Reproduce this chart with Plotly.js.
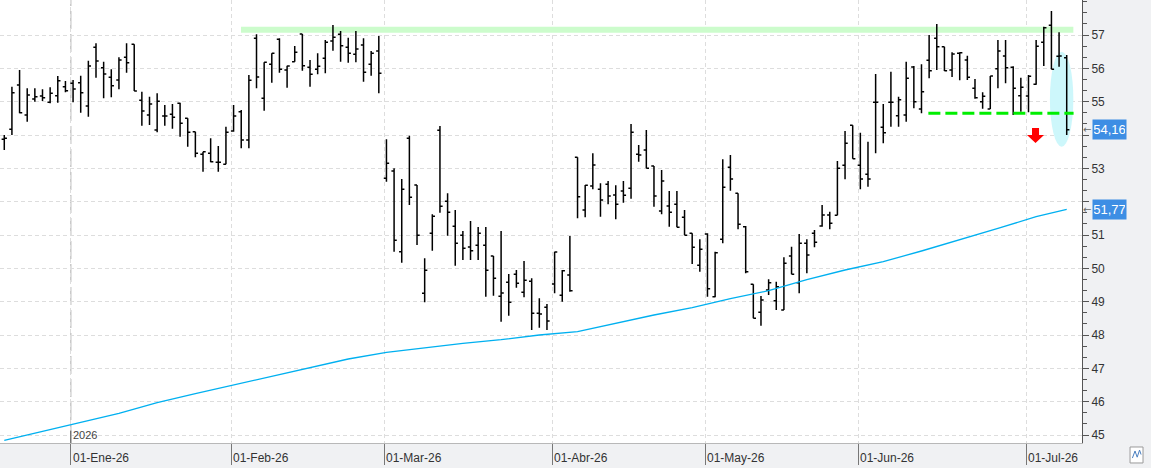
<!DOCTYPE html>
<html>
<head>
<meta charset="utf-8">
<script src="https://cdn.plot.ly/plotly-3.0.1.min.js"></script>
<style>
html,body{margin:0;padding:0;background:#f0f1f3;}
#chart{width:1151px;height:468px;}
</style>
</head>
<body>
<div id="chart"></div>
<script>
// Trading days per month (category labels)
const decDays = [17,18,19,22,23,24,29,30,31];
const janDays = [2,5,6,7,8,9,12,13,14,15,16,19,20,21,22,23,26,27,28,29,30];
const febDays = [2,3,4,5,6,9,10,11,12,13,16,17,18,19,20,23,24,25,26,27];
const marDays = [2,3,4,5,6,9,10,11,12,13,16,17,18,19,20,23,24,25,26,27,30,31];
const aprDays = [1,2,7,8,9,10,13,14,15,16,17,20,21,22,23,24,27,28,29,30];
const mayDays = [4,5,6,7,8,11,12,13,14,15,18,19,20,21,22,25,26,27,28,29];
const junDays = [1,2,3,4,5,8,9,10,11,12,15,16,17,18,19,22,23,24,25,26,29,30];
const julDays = [1,2,3,6,7,8];

const open = [
53.87,54.17,55.5,54.6,55.08,55.17,54.98,55.18,55.45,55.55,
55.57,54.87,56.63,56.02,55.73,55.65,56.33,56.72,55.04,54.6,
54.15,54.57,54.62,54.95,54.5,54.1,53.42,53.45,53.18,53.12,
54.12,54.7,53.85,56.9,55.1,56.12,56.87,55.95,56.2,57.03,
56.03,55.97,56.3,56.82,57.02,56.63,56.42,56.7,56.12,56.52,
52.7,52.92,50.5,53.9,52.5,49.25,51.05,54.14,52.01,51.26,
50.99,50.64,50.69,50.69,50.37,49.16,49.58,49.82,49.28,49.61,
48.65,48.83,49.53,49.19,49.8,53.33,51.75,52.47,52.37,52.52,
52.2,52.32,52.4,53.42,53.55,53.07,51.72,51.87,51.92,51.53,
51.05,50.09,51.03,49.15,50.87,53.03,52.25,51.25,49.52,48.68,
49.35,49.03,48.75,50.37,49.57,50.75,51.05,51.27,51.6,51.59,
53.09,54.29,53.09,52.82,54.98,54.23,54.98,54.58,54.6,56.04,
54.78,56.24,56.9,56.65,55.95,56.45,56.25,55.4,55.0,54.78,
55.99,56.37,56.03,55.18,55.17,55.52,56.78,57.29,56.36,56.32
];
const high = [
54.0,55.45,55.95,55.4,55.4,55.37,55.43,55.77,55.62,55.65,
55.78,56.23,56.75,56.2,55.97,56.33,56.75,56.72,55.3,55.15,
55.25,54.9,54.93,54.97,54.5,54.1,53.5,53.9,53.67,54.25,
54.9,54.75,55.8,57.02,56.18,56.45,56.9,56.08,56.67,57.03,
56.25,56.45,56.85,57.3,57.12,56.92,57.12,56.9,56.52,56.97,
53.87,53.0,52.68,53.98,52.5,50.3,51.62,54.27,52.25,51.75,
51.12,51.42,51.24,51.24,50.37,51.12,49.83,49.95,50.22,49.7,
49.1,48.93,50.5,49.95,50.97,53.33,52.5,53.45,52.55,52.62,
52.49,52.62,54.33,53.7,54.15,53.07,52.95,52.32,52.32,51.75,
51.05,50.87,51.05,50.5,53.27,53.4,52.25,51.27,49.52,49.17,
49.67,49.6,50.33,50.65,51.03,50.87,51.15,51.9,51.7,53.22,
54.12,54.29,54.07,53.8,55.83,54.93,55.9,55.15,56.2,56.07,
56.12,57.0,57.33,56.65,56.48,56.48,56.38,55.68,55.28,55.77,
56.85,56.85,56.06,55.72,55.8,56.85,57.25,57.72,57.08,56.4
];
const low = [
53.55,54.0,54.65,54.4,55.0,55.02,54.95,54.97,55.28,54.98,
54.67,54.55,55.72,55.1,55.13,55.37,55.87,55.32,54.28,54.3,
54.08,54.28,54.19,53.95,53.65,53.33,52.9,53.18,52.9,53.12,
54.1,53.6,53.6,55.4,54.73,55.57,55.87,55.42,56.2,55.93,
55.45,55.82,55.85,56.53,56.2,56.17,56.18,55.6,55.78,55.25,
52.6,50.5,50.17,51.9,50.7,48.98,50.53,51.67,50.98,50.08,
50.25,50.25,50.25,49.15,49.18,48.4,48.58,49.42,49.13,48.15,
48.22,48.15,49.25,49.0,49.3,51.5,51.53,52.37,51.55,51.92,
51.47,51.97,52.09,53.2,53.0,51.85,51.62,51.25,51.23,50.99,
50.13,49.9,49.15,49.13,50.75,52.33,51.17,49.85,48.5,48.28,
49.2,48.75,48.75,49.82,49.25,49.85,50.63,51.25,51.17,51.59,
52.67,53.29,52.37,52.45,53.45,53.75,54.25,54.25,54.4,54.8,
54.65,55.7,55.95,55.92,55.74,55.64,55.65,55.09,54.79,54.78,
55.4,55.55,54.6,54.7,54.68,55.51,56.07,55.97,56.05,54.0
];
const close = [
53.9,55.27,54.67,55.2,55.15,55.12,55.25,55.63,55.33,55.38,
55.27,56.07,56.22,55.83,55.48,56.25,56.17,55.32,54.72,54.93,
55.01,54.57,54.53,54.35,54.08,53.45,53.5,53.2,53.18,54.08,
54.57,53.85,55.64,55.74,56.18,56.45,55.97,56.07,56.48,56.08,
55.82,56.06,56.78,56.93,56.68,56.45,56.58,55.88,56.45,55.85,
53.15,50.84,52.37,52.13,50.99,49.94,51.56,51.86,51.68,50.75,
50.6,50.53,51.05,49.94,49.7,49.26,48.98,49.55,49.64,48.65,
48.63,48.42,50.49,49.93,49.33,52.15,52.49,53.1,52.05,52.17,
51.92,52.19,54.08,53.4,53.0,52.17,52.62,51.68,51.23,50.99,
50.63,50.57,49.39,50.47,52.43,52.68,51.32,49.9,48.5,49.05,
49.57,49.45,50.15,49.82,50.75,50.4,50.78,51.6,51.35,53.0,
53.75,53.29,52.68,52.68,54.98,54.07,54.98,55.06,55.7,55.0,
55.3,55.93,56.65,55.93,56.43,56.47,55.73,55.12,55.16,55.77,
56.52,56.02,55.4,55.43,55.76,56.66,57.22,55.97,56.37,54.16
];

// Moving average, read at selected trading days (index into the day list)
const maIdx  = [0,5,10,15,20,25,30,35,40,45,50,55,60,65,70,75,80,85,90,95,100,105,110,115,120,125,130,135,139];
const maVals = [44.84,45.1,45.38,45.65,45.97,46.24,46.5,46.76,47.02,47.28,47.48,47.62,47.75,47.86,48.0,48.1,48.35,48.6,48.82,49.09,49.33,49.66,49.95,50.2,50.52,50.85,51.2,51.55,51.77];

const monthStarts = ['2026-01-02','2026-02-02','2026-03-02','2026-04-01','2026-05-04','2026-06-01','2026-07-01'];
const monthLabels = ['01-Ene-26','01-Feb-26','01-Mar-26','01-Abr-26','01-May-26','01-Jun-26','01-Jul-26'];
const yTicks = [45,46,47,48,49,50,51,52,53,54,55,56,57];
// 52 and 54 sit behind the price boxes in the reference
const yTickText = ['45','46','47','48','49','50','51','','53','','55','56','57'];
const lastClose = 54.16, lastMA = 51.77;
const resistance = [57.07, 57.25];
const support = 54.65;

// build the date list
const pad = d => (d < 10 ? '0' : '') + d;
const dates = [].concat(
  decDays.map(d => '2025-12-' + pad(d)),
  janDays.map(d => '2026-01-' + pad(d)),
  febDays.map(d => '2026-02-' + pad(d)),
  marDays.map(d => '2026-03-' + pad(d)),
  aprDays.map(d => '2026-04-' + pad(d)),
  mayDays.map(d => '2026-05-' + pad(d)),
  junDays.map(d => '2026-06-' + pad(d)),
  julDays.map(d => '2026-07-' + pad(d))
);
const xi = dates.map((d, i) => i);
const tickPos = monthStarts.map(m => dates.indexOf(m) - 0.3);

const traces = [
  {
    type: 'scatter', mode: 'lines', x: maIdx, y: maVals,
    line: {color: '#00b0f0', width: 1.3}, hoverinfo: 'skip'
  },
  {
    type: 'ohlc', x: xi, open: open, high: high, low: low, close: close,
    text: dates, tickwidth: 0.35,
    increasing: {line: {color: '#000000', width: 1.5}},
    decreasing: {line: {color: '#000000', width: 1.5}}
  }
];

const annotations = monthLabels.map((t, i) => ({
  x: tickPos[i], xref: 'x', xanchor: 'left', y: 0, yref: 'paper', yanchor: 'top',
  yshift: -6, text: t, showarrow: false, font: {size: 12, color: '#333'}
}));
annotations.push({
  x: tickPos[0], xref: 'x', xanchor: 'left', y: 0, yref: 'paper', yanchor: 'bottom',
  yshift: 0, text: '2026', showarrow: false, font: {size: 11, color: '#444'}
});
[[lastClose, '54,16'], [lastMA, '51,77']].forEach(([v, t]) => {
  annotations.push({
    x: 1.0095, xref: 'paper', xanchor: 'left', y: v, yref: 'y', yanchor: 'middle',
    text: t, showarrow: false, bgcolor: '#3d8ee4', width: 31, height: 17, borderpad: 1,
    font: {size: 13, color: '#ffffff'}
  });
  annotations.push({
    x: 1.0048, xref: 'paper', xanchor: 'center', y: v, yref: 'y', yanchor: 'middle',
    text: '\u2190', showarrow: false, font: {size: 10, color: '#666', family: 'DejaVu Sans'}
  });
});

const shapes = [
  // resistance band
  {type: 'rect', xref: 'x', yref: 'y', x0: 30.97, x1: 139.87, y0: resistance[0], y1: resistance[1],
   fillcolor: '#ccfccc', line: {width: 0}, layer: 'between'},
  // cyan ellipse
  {type: 'circle', xref: 'x', yref: 'y', x0: 136.8, x1: 139.87, y0: 53.65, y1: 56.5,
   fillcolor: '#cdf7fb', line: {width: 0}, layer: 'between'},
  // support dashed line
  {type: 'line', xref: 'x', yref: 'y', x0: 120.9, x1: 139.9, y0: support, y1: support,
   line: {color: '#00ee00', width: 3, dash: '12px,5px'}, layer: 'above'},
  // red arrow
  {type: 'path', xref: 'x', yref: 'y',
   path: 'M134.46,54.21 L135.38,54.21 L135.38,54.0 L136.03,54.0 L134.92,53.76 L133.8,54.0 L134.46,54.0 Z',
   fillcolor: '#ff0000', line: {width: 0}, layer: 'above'},
  // year separator
  {type: 'line', xref: 'x', yref: 'paper', x0: tickPos[0], x1: tickPos[0], y0: 0, y1: 1,
   line: {color: '#c8c8c8', width: 1.5, dash: '18px,5px'}, layer: 'between'},
  {type: 'line', xref: 'x', yref: 'paper', x0: tickPos[0], x1: tickPos[0], y0: 0, y1: 0.028,
   line: {color: '#555', width: 1}, layer: 'above'},
  // small icon bottom right
  {type: 'rect', xref: 'paper', yref: 'paper', x0: 1.0444, x1: 1.0564, y0: -0.0451, y1: -0.009,
   fillcolor: '#ffffff', line: {color: '#9a9a9a', width: 1}},
  {type: 'path', xref: 'paper', yref: 'paper',
   path: 'M1.0466,-0.034 L1.0490,-0.018 L1.0510,-0.032 L1.0532,-0.016 L1.0546,-0.026',
   line: {color: '#4a7fc0', width: 1}}
];

const layout = {
  width: 1151, height: 468,
  margin: {l: 0, r: 69, t: 0, b: 25, pad: 0},
  paper_bgcolor: '#f0f1f3', plot_bgcolor: '#ffffff',
  showlegend: false,
  font: {family: 'Liberation Sans, Arial, sans-serif', size: 12, color: '#333'},
  xaxis: {
    type: 'linear', range: [-0.56, 141.0], tickmode: 'array', tickvals: tickPos,
    showticklabels: false, ticks: 'outside', ticklen: 21, tickcolor: '#777', tickwidth: 1,
    showgrid: true, gridcolor: '#dddddd', griddash: '4px,3px', gridwidth: 1,
    zeroline: false, showline: true, linecolor: '#b8b8b8', linewidth: 1,
    rangeslider: {visible: false}, fixedrange: true
  },
  yaxis: {
    side: 'right', range: [44.76, 58.05], tickmode: 'array', tickvals: yTicks, ticktext: yTickText,
    ticks: 'outside', ticklen: 6, tickcolor: '#555', showline: true, linecolor: '#555', linewidth: 1,
    showgrid: true, gridcolor: '#dddddd', griddash: '4px,3px', zeroline: false,
    minor: {tickmode: 'linear', tick0: 45, dtick: 1/3, ticks: 'outside', ticklen: 4, tickcolor: '#555', showgrid: false},
    tickfont: {size: 12, color: '#333'}, fixedrange: true
  },
  annotations: annotations,
  shapes: shapes
};

Plotly.newPlot('chart', traces, layout, {staticPlot: true, displayModeBar: false});
</script>
</body>
</html>
